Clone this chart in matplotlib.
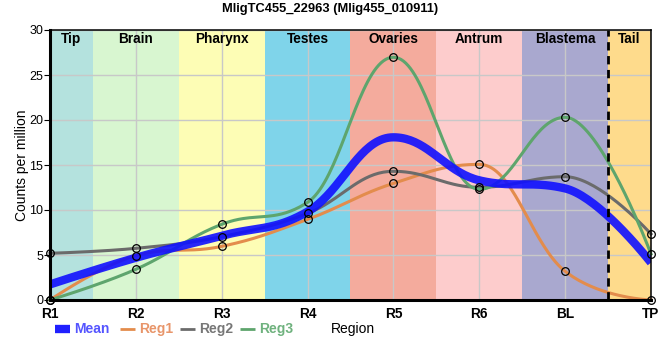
import numpy as np
import matplotlib
matplotlib.use("Agg")
import matplotlib.pyplot as plt
from matplotlib.lines import Line2D

plt.rcParams['font.family'] = ['Liberation Sans', 'DejaVu Sans']

# regions along the body axis
regions = ["R1", "R2", "R3", "R4", "R5", "R6", "BL", "TP"]

# counts per million per replicate
reg1 = [0.0, 4.93, 5.96, 8.96, 12.96, 15.07, 3.19, 0.0]
reg2 = [5.19, 5.74, 7.04, 9.63, 14.3, 12.52, 13.7, 7.33]
reg3 = [0.0, 3.41, 8.41, 10.85, 26.97, 12.3, 20.3, 5.11]

# background bands: name, edges (in region index units), colour
band_names = ["Tip", "Brain", "Pharynx", "Testes", "Ovaries", "Antrum", "Blastema", "Tail"]
band_edges = [0, 0.5, 1.5, 2.5, 3.5, 4.5, 5.5, 6.5, 7]
band_colors = ["#b4e2de", "#d8f6d0", "#fdfdb5", "#7fd4ea", "#f4ab9d",
               "#fdcccc", "#a9a8cf", "#fedb8c"]

TITLE = "MligTC455_22963 (Mlig455_010911)"


def spline_controls(xs, ys, smoothing=1.5):
	# control points for each point, spline style with clamping against false extremes
	n = len(xs)
	left = [(xs[i], ys[i]) for i in range(n)]
	right = [(xs[i], ys[i]) for i in range(n)]
	denom = smoothing + 1
	for i in range(1, n - 1):
		px, py = xs[i], ys[i]
		lx, ly = xs[i - 1], ys[i - 1]
		nx, ny = xs[i + 1], ys[i + 1]
		lcx = (smoothing * px + lx) / denom
		lcy = (smoothing * py + ly) / denom
		rcx = (smoothing * px + nx) / denom
		rcy = (smoothing * py + ny) / denom
		corr = (rcy - lcy) * (rcx - px) / (rcx - lcx) + py - rcy
		lcy += corr
		rcy += corr
		if lcy > ly and lcy > py:
			lcy = max(ly, py)
			rcy = 2 * py - lcy
		elif lcy < ly and lcy < py:
			lcy = min(ly, py)
			rcy = 2 * py - lcy
		if rcy > ny and rcy > py:
			rcy = max(ny, py)
			lcy = 2 * py - rcy
		elif rcy < ny and rcy < py:
			rcy = min(ny, py)
			lcy = 2 * py - rcy
		left[i] = (lcx, lcy)
		right[i] = (rcx, rcy)
	return left, right


def smooth_curve(xs, ys, steps=40):
	left, right = spline_controls(xs, ys)
	u = np.linspace(0, 1, steps)
	px, py = [], []
	for i in range(len(xs) - 1):
		p0 = (xs[i], ys[i])
		p1 = right[i]
		p2 = left[i + 1]
		p3 = (xs[i + 1], ys[i + 1])
		bx = ((1 - u) ** 3 * p0[0] + 3 * (1 - u) ** 2 * u * p1[0]
		      + 3 * (1 - u) * u ** 2 * p2[0] + u ** 3 * p3[0])
		by = ((1 - u) ** 3 * p0[1] + 3 * (1 - u) ** 2 * u * p1[1]
		      + 3 * (1 - u) * u ** 2 * p2[1] + u ** 3 * p3[1])
		px.append(bx)
		py.append(by)
	return np.concatenate(px), np.concatenate(py)


x = np.arange(len(regions)).astype(float)
mean = (np.array(reg1) + np.array(reg2) + np.array(reg3)) / 3

fig = plt.figure(figsize=(6.6, 3.6), dpi=100)
ax = fig.add_axes([50 / 660, 60 / 360, 601 / 660, 270 / 360])

for i, name in enumerate(band_names):
	ax.axvspan(band_edges[i], band_edges[i + 1], color=band_colors[i], lw=0, zorder=0)
	ax.text((band_edges[i] + band_edges[i + 1]) / 2, 29.75, name, ha="center", va="top",
	        fontsize=9.8, fontweight="bold", zorder=6)

ax.set_xlim(0, 7)
ax.set_ylim(0, 30)
ax.set_xticks(x)
ax.set_xticklabels(regions, fontsize=9.8, fontweight="bold")
ax.set_yticks(range(0, 31, 5))
ax.tick_params(axis="y", labelsize=9, length=4, pad=1)
ax.tick_params(axis="x", length=0, pad=5)
ax.grid(True, color="#c8c8c8", lw=1)
for ln in ax.get_xgridlines() + ax.get_ygridlines():
	ln.set_zorder(1)

ax.axvline(6.5, color="black", lw=2, ls=(0, (3, 2)), zorder=5)

series = [(reg1, "#e38c4c"), (reg2, "#6b6b6b"), (reg3, "#5ea56d")]
for vals, col in series:
	cx, cy = smooth_curve(x, np.array(vals, dtype=float))
	ax.plot(cx, cy, color=col, lw=2.2, zorder=3, clip_on=False)

mx, my = smooth_curve(x, mean)
ax.plot(mx, my, color="#1010ff", lw=6, alpha=0.9, zorder=4, solid_capstyle="butt")

for vals, col in series:
	ax.plot(x, vals, ls="none", marker="o", ms=5.5, mfc="none", mec="black",
	        mew=0.9, zorder=5, clip_on=False)

for side in ["top", "right"]:
	ax.spines[side].set_linewidth(1.1)
ax.spines["left"].set_linewidth(2.2)
ax.spines["bottom"].set_linewidth(2.2)
for sp in ax.spines.values():
	sp.set_zorder(7)

ax.set_ylabel("Counts per million", fontsize=10, labelpad=0)
fig.text(330 / 660, 1 - 9 / 360, TITLE, ha="center", va="center", fontsize=9.3, fontweight="bold")

# legend row drawn by hand, positions in pixels
leg_items = [("Mean", "#2020ff", "#5555ff", 6, 55),
             ("Reg1", "#e38c4c", "#e8956a", 2, 120),
             ("Reg2", "#6b6b6b", "#777777", 2, 180),
             ("Reg3", "#5ea56d", "#6fb27e", 2, 240)]
ly = 1 - 329 / 360
for lab, lcol, tcol, lw, px in leg_items:
	fig.add_artist(Line2D([px / 660, (px + 15) / 660], [ly, ly], color=lcol, lw=lw,
	                      solid_capstyle="butt", transform=fig.transFigure))
	fig.text((px + 19) / 660, ly, lab, ha="left", va="center", fontsize=10,
	         fontweight="bold", color=tcol)
fig.text(331 / 660, ly, "Region", ha="left", va="center", fontsize=10)

fig.savefig("out.png", dpi=100)
